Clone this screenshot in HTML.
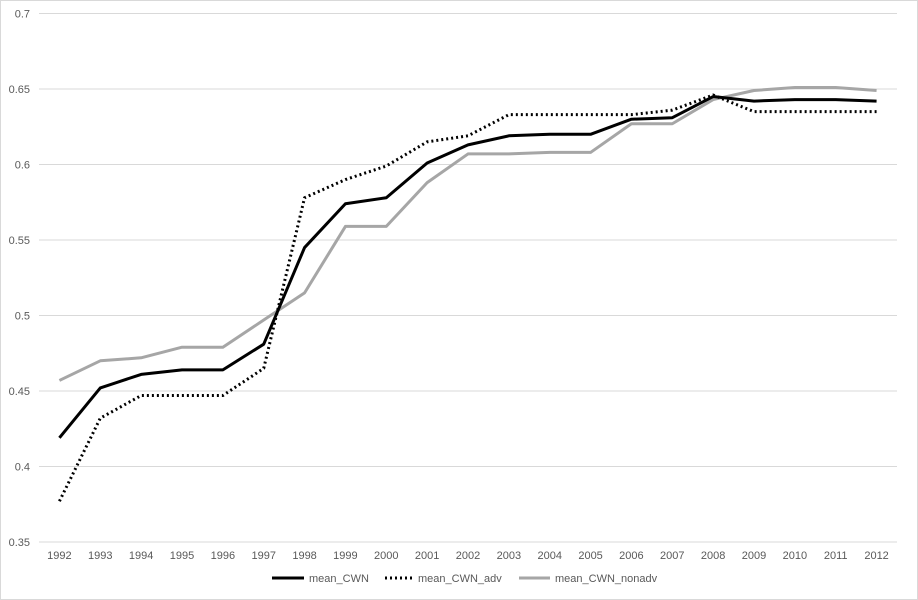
<!DOCTYPE html>
<html><head><meta charset="utf-8"><style>
html,body{margin:0;padding:0;background:#fff}
svg{display:block;font-family:"Liberation Sans",sans-serif}
</style></head><body>
<svg id="chart" width="918" height="600" viewBox="0 0 918 600">
<rect x="0.5" y="0.5" width="917" height="599" fill="#fff" stroke="#d9d9d9"/>
<g id="grid"></g>
<g id="ylabels"></g>
<g id="xlabels"></g>
<g id="series"></g>
<g font-size="11" fill="#595959">
<g><line x1="272" y1="578" x2="304" y2="578" stroke="#000" stroke-width="3"/><text x="309" y="582">mean_CWN</text></g>
<g><line x1="385" y1="578" x2="413" y2="578" stroke="#000" stroke-width="3" stroke-dasharray="2,3"/><text x="418" y="582">mean_CWN_adv</text></g>
<g><line x1="519" y1="578" x2="550" y2="578" stroke="#a6a6a6" stroke-width="3"/><text x="555" y="582">mean_CWN_nonadv</text></g>
</g>
</svg>
<script>
const years=[1992,1993,1994,1995,1996,1997,1998,1999,2000,2001,2002,2003,2004,2005,2006,2007,2008,2009,2010,2011,2012];
const yTicks=[0.35,0.4,0.45,0.5,0.55,0.6,0.65,0.7];
const yTickLabels=["0.35","0.4","0.45","0.5","0.55","0.6","0.65","0.7"];
const meanCWN=[0.419,0.452,0.461,0.464,0.464,0.481,0.545,0.574,0.578,0.601,0.613,0.619,0.620,0.620,0.630,0.631,0.645,0.642,0.643,0.643,0.642];
const meanCWNAdv=[0.377,0.432,0.447,0.447,0.447,0.465,0.578,0.590,0.599,0.615,0.619,0.633,0.633,0.633,0.633,0.636,0.646,0.635,0.635,0.635,0.635];
const meanCWNNonadv=[0.457,0.470,0.472,0.479,0.479,0.497,0.515,0.559,0.559,0.588,0.607,0.607,0.608,0.608,0.627,0.627,0.643,0.649,0.651,0.651,0.649];
const NS="http://www.w3.org/2000/svg";
const L=39,R=897,T=13.5,B=542,yMin=0.35,yMax=0.7;
const xs=i=>L+(R-L)/years.length*(i+0.5);
const ys=v=>B-(v-yMin)/(yMax-yMin)*(B-T);
const grid=document.getElementById('grid'),yl=document.getElementById('ylabels'),xl=document.getElementById('xlabels'),ser=document.getElementById('series');
yTicks.forEach((t,i)=>{
 const ln=document.createElementNS(NS,'line');
 
 
 ln.setAttribute('x1',L);ln.setAttribute('x2',R);ln.setAttribute('y1',ys(t));ln.setAttribute('y2',ys(t));
 ln.setAttribute('stroke','#d9d9d9');ln.setAttribute('stroke-width','1');
 grid.appendChild(ln);
 const tx=document.createElementNS(NS,'text');
 
 
 tx.setAttribute('x',30);tx.setAttribute('y',ys(t)+4);tx.setAttribute('text-anchor','end');
 tx.setAttribute('font-size','11');tx.setAttribute('fill','#595959');
 tx.textContent=yTickLabels[i];yl.appendChild(tx);
});
years.forEach((y,i)=>{
 const tx=document.createElementNS(NS,'text');
 
 
 tx.setAttribute('x',xs(i));tx.setAttribute('y',559);tx.setAttribute('text-anchor','middle');
 tx.setAttribute('font-size','11');tx.setAttribute('fill','#595959');
 tx.textContent=y;xl.appendChild(tx);
});
function line(data,color,dash,name){
 const p=document.createElementNS(NS,'polyline');
 
 
 p.setAttribute('points',data.map((v,i)=>xs(i)+','+ys(v)).join(' '));
 p.setAttribute('fill','none');p.setAttribute('stroke',color);p.setAttribute('stroke-width','3');
 p.setAttribute('stroke-linejoin','round');
 if(dash)p.setAttribute('stroke-dasharray',dash);
 ser.appendChild(p);
}
line(meanCWNNonadv,'#a6a6a6',null,'series-mean-cwn-nonadv');
line(meanCWNAdv,'#000','2,3','series-mean-cwn-adv');
line(meanCWN,'#000',null,'series-mean-cwn');
</script>
</body></html>
